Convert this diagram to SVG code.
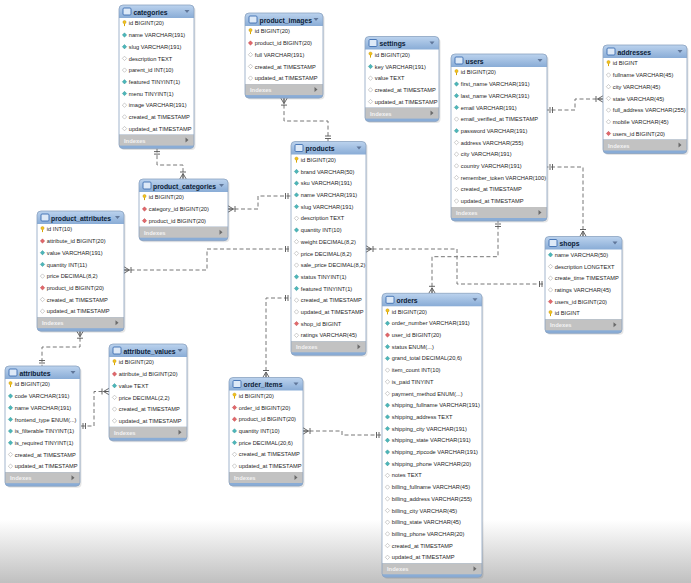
<svg xmlns="http://www.w3.org/2000/svg" xmlns:xlink="http://www.w3.org/1999/xlink" width="691" height="583" viewBox="0 0 691 583">
<style>
.tb{fill:url(#hg)}
.sh{fill:#000;opacity:0.1}
.bd{fill:#ffffff}
.ix{fill:#c2c2c2}
.ol{fill:none;stroke:#8aa2c0;stroke-width:0.8}
.nm{font-family:"Liberation Sans",Arial,sans-serif;font-size:6.8px;font-weight:bold;fill:#0c1d38}
.f{font-family:"Liberation Sans",Arial,sans-serif;font-size:5.7px;fill:#1e1e1e}
.ixt{font-family:"Liberation Sans",Arial,sans-serif;font-size:5.8px;font-weight:bold;fill:#f2f2f2}
.cn path{fill:none;stroke:#767676;stroke-width:1;stroke-dasharray:4 2.5}
.mk{fill:none;stroke:#555;stroke-width:0.9}
</style>
<defs>
<linearGradient id="hg" gradientUnits="userSpaceOnUse" x1="0" y1="0" x2="0" y2="13">
<stop offset="0" stop-color="#bcd3ee"/>
<stop offset="1" stop-color="#89acd6"/>
</linearGradient>
<linearGradient id="bg" x1="0" y1="0" x2="0" y2="1">
<stop offset="0" stop-color="#8c8c8c" stop-opacity="0"/>
<stop offset="1" stop-color="#8c8c8c" stop-opacity="0.55"/>
</linearGradient>
<g id="k"><circle cx="0" cy="-1.2" r="1.6" fill="#f3c21b" stroke="#b98b00" stroke-width="0.4"/><rect x="-0.5" y="0.2" width="1" height="2.6" fill="#d9a600"/></g>
<path id="dt" d="M0,-2.2L2.2,0L0,2.2L-2.2,0Z" fill="#4cb6b9" stroke="#2a8d91" stroke-width="0.4"/>
<path id="dh" d="M0,-2.2L2.2,0L0,2.2L-2.2,0Z" fill="#ffffff" stroke="#9a9a9a" stroke-width="0.5"/>
<path id="dr" d="M0,-2.2L2.2,0L0,2.2L-2.2,0Z" fill="#e2676a" stroke="#b34045" stroke-width="0.4"/>
<rect id="ti" width="8" height="7" rx="1" fill="#dde9f7" stroke="#3d6eb1" stroke-width="0.9"/>
<path id="dd" d="M-2.5,-1.5h5l-2.5,3z" fill="#60779a"/>
<path id="rt" d="M-1.5,-2.5v5l3,-2.5z" fill="#6a6a6a"/>
<marker id="one" viewBox="-10 -5 12 10" refX="0" refY="0" markerWidth="12" markerHeight="10" markerUnits="userSpaceOnUse" orient="auto-start-reverse">
<path class="mk" d="M-3,-3V3M-5.5,-3V3"/>
</marker>
<marker id="many" viewBox="-10 -5 12 10" refX="0" refY="0" markerWidth="12" markerHeight="10" markerUnits="userSpaceOnUse" orient="auto-start-reverse">
<path class="mk" d="M-5.5,0L0,-3.2M-5.5,0L0,3.2M-5.5,0H0M-7,-3V3"/>
</marker>
</defs>
<rect width="691" height="583" fill="#ffffff"/>
<rect y="520" width="691" height="63" fill="url(#bg)"/>

<g class="cn" id="connectors">
<path d="M157,148.6V165H183V179" marker-start="url(#one)" marker-end="url(#many)"/>
<path d="M284,98.1V121H328V141.5" marker-start="url(#many)" marker-end="url(#one)"/>
<path d="M228,209H258V196H291" marker-start="url(#many)" marker-end="url(#one)"/>
<path d="M124,270H207V249H291" marker-start="url(#many)" marker-end="url(#one)"/>
<path d="M80,331.2V347H42V366" marker-start="url(#many)" marker-end="url(#one)"/>
<path d="M109,391.5H94V426H80" marker-start="url(#many)" marker-end="url(#one)"/>
<path d="M266,377.5V298H291" marker-start="url(#many)" marker-end="url(#one)"/>
<path d="M303,431H342V435H382" marker-start="url(#many)" marker-end="url(#one)"/>
<path d="M366,249H457V284H545" marker-start="url(#many)" marker-end="url(#one)"/>
<path d="M432,293.3V256.7H498V221" marker-start="url(#many)" marker-end="url(#one)"/>
<path d="M583,236.5V167H547" marker-start="url(#many)" marker-end="url(#one)"/>
<path d="M603,99H575V110H547" marker-start="url(#many)" marker-end="url(#one)"/>
</g>

<g id="categories" transform="translate(119,5)">
<rect class="sh" x="1.5" y="1.5" width="75" height="143.6" rx="4"/>
<rect class="tb" width="75" height="143.6" rx="4"/>
<rect class="bd" y="13" width="75" height="116.6"/>
<rect class="ix" y="129.6" width="75" height="11"/>
<rect class="ol" width="75" height="143.6" rx="4"/>
<use href="#ti" x="4" y="3"/>
<text class="nm" x="14.5" y="9.6">categories</text>
<use href="#dd" x="68" y="6.5"/>
<text class="ixt" x="5" y="137.6">Indexes</text>
<use href="#rt" x="68" y="135.1"/>
<use href="#k" x="5.5" y="18.3"/><text class="f" x="9.8" y="20.4">id BIGINT(20)</text>
<use href="#dt" x="5.5" y="30"/><text class="f" x="9.8" y="32.1">name VARCHAR(191)</text>
<use href="#dt" x="5.5" y="41.7"/><text class="f" x="9.8" y="43.8">slug VARCHAR(191)</text>
<use href="#dh" x="5.5" y="53.4"/><text class="f" x="9.8" y="55.5">description TEXT</text>
<use href="#dh" x="5.5" y="65.1"/><text class="f" x="9.8" y="67.2">parent_id INT(10)</text>
<use href="#dt" x="5.5" y="76.8"/><text class="f" x="9.8" y="78.9">featured TINYINT(1)</text>
<use href="#dt" x="5.5" y="88.5"/><text class="f" x="9.8" y="90.6">menu TINYINT(1)</text>
<use href="#dh" x="5.5" y="100.2"/><text class="f" x="9.8" y="102.3">image VARCHAR(191)</text>
<use href="#dh" x="5.5" y="111.9"/><text class="f" x="9.8" y="114">created_at TIMESTAMP</text>
<use href="#dh" x="5.5" y="123.6"/><text class="f" x="9.8" y="125.7">updated_at TIMESTAMP</text>
</g>

<g id="product_images" transform="translate(245,13)">
<rect class="sh" x="1.5" y="1.5" width="78" height="85.1" rx="4"/>
<rect class="tb" width="78" height="85.1" rx="4"/>
<rect class="bd" y="13" width="78" height="58.1"/>
<rect class="ix" y="71.1" width="78" height="11"/>
<rect class="ol" width="78" height="85.1" rx="4"/>
<use href="#ti" x="4" y="3"/>
<text class="nm" x="14.5" y="9.6">product_images</text>
<use href="#dd" x="71" y="6.5"/>
<text class="ixt" x="5" y="79.1">Indexes</text>
<use href="#rt" x="71" y="76.6"/>
<use href="#k" x="5.5" y="18.3"/><text class="f" x="9.8" y="20.4">id BIGINT(20)</text>
<use href="#dr" x="5.5" y="30"/><text class="f" x="9.8" y="32.1">product_id BIGINT(20)</text>
<use href="#dh" x="5.5" y="41.7"/><text class="f" x="9.8" y="43.8">full VARCHAR(191)</text>
<use href="#dh" x="5.5" y="53.4"/><text class="f" x="9.8" y="55.5">created_at TIMESTAMP</text>
<use href="#dh" x="5.5" y="65.1"/><text class="f" x="9.8" y="67.2">updated_at TIMESTAMP</text>
</g>

<g id="settings" transform="translate(365,36.5)">
<rect class="sh" x="1.5" y="1.5" width="74" height="85.1" rx="4"/>
<rect class="tb" width="74" height="85.1" rx="4"/>
<rect class="bd" y="13" width="74" height="58.1"/>
<rect class="ix" y="71.1" width="74" height="11"/>
<rect class="ol" width="74" height="85.1" rx="4"/>
<use href="#ti" x="4" y="3"/>
<text class="nm" x="14.5" y="9.6">settings</text>
<use href="#dd" x="67" y="6.5"/>
<text class="ixt" x="5" y="79.1">Indexes</text>
<use href="#rt" x="67" y="76.6"/>
<use href="#k" x="5.5" y="18.3"/><text class="f" x="9.8" y="20.4">id BIGINT(20)</text>
<use href="#dt" x="5.5" y="30"/><text class="f" x="9.8" y="32.1">key VARCHAR(191)</text>
<use href="#dh" x="5.5" y="41.7"/><text class="f" x="9.8" y="43.8">value TEXT</text>
<use href="#dh" x="5.5" y="53.4"/><text class="f" x="9.8" y="55.5">created_at TIMESTAMP</text>
<use href="#dh" x="5.5" y="65.1"/><text class="f" x="9.8" y="67.2">updated_at TIMESTAMP</text>
</g>

<g id="users" transform="translate(451,54)">
<rect class="sh" x="1.5" y="1.5" width="96" height="167" rx="4"/>
<rect class="tb" width="96" height="167" rx="4"/>
<rect class="bd" y="13" width="96" height="140"/>
<rect class="ix" y="153" width="96" height="11"/>
<rect class="ol" width="96" height="167" rx="4"/>
<use href="#ti" x="4" y="3"/>
<text class="nm" x="14.5" y="9.6">users</text>
<use href="#dd" x="89" y="6.5"/>
<text class="ixt" x="5" y="161">Indexes</text>
<use href="#rt" x="89" y="158.5"/>
<use href="#k" x="5.5" y="18.3"/><text class="f" x="9.8" y="20.4">id BIGINT(20)</text>
<use href="#dt" x="5.5" y="30"/><text class="f" x="9.8" y="32.1">first_name VARCHAR(191)</text>
<use href="#dt" x="5.5" y="41.7"/><text class="f" x="9.8" y="43.8">last_name VARCHAR(191)</text>
<use href="#dt" x="5.5" y="53.4"/><text class="f" x="9.8" y="55.5">email VARCHAR(191)</text>
<use href="#dh" x="5.5" y="65.1"/><text class="f" x="9.8" y="67.2">email_verified_at TIMESTAMP</text>
<use href="#dt" x="5.5" y="76.8"/><text class="f" x="9.8" y="78.9">password VARCHAR(191)</text>
<use href="#dh" x="5.5" y="88.5"/><text class="f" x="9.8" y="90.6">address VARCHAR(255)</text>
<use href="#dh" x="5.5" y="100.2"/><text class="f" x="9.8" y="102.3">city VARCHAR(191)</text>
<use href="#dh" x="5.5" y="111.9"/><text class="f" x="9.8" y="114">country VARCHAR(191)</text>
<use href="#dh" x="5.5" y="123.6"/><text class="f" x="9.8" y="125.7">remember_token VARCHAR(100)</text>
<use href="#dh" x="5.5" y="135.3"/><text class="f" x="9.8" y="137.4">created_at TIMESTAMP</text>
<use href="#dh" x="5.5" y="147"/><text class="f" x="9.8" y="149.1">updated_at TIMESTAMP</text>
</g>

<g id="addresses" transform="translate(603,45)">
<rect class="sh" x="1.5" y="1.5" width="84" height="108.5" rx="4"/>
<rect class="tb" width="84" height="108.5" rx="4"/>
<rect class="bd" y="13" width="84" height="81.5"/>
<rect class="ix" y="94.5" width="84" height="11"/>
<rect class="ol" width="84" height="108.5" rx="4"/>
<use href="#ti" x="4" y="3"/>
<text class="nm" x="14.5" y="9.6">addresses</text>
<use href="#dd" x="77" y="6.5"/>
<text class="ixt" x="5" y="102.5">Indexes</text>
<use href="#rt" x="77" y="100"/>
<use href="#k" x="5.5" y="18.3"/><text class="f" x="9.8" y="20.4">id BIGINT</text>
<use href="#dh" x="5.5" y="30"/><text class="f" x="9.8" y="32.1">fullname VARCHAR(45)</text>
<use href="#dh" x="5.5" y="41.7"/><text class="f" x="9.8" y="43.8">city VARCHAR(45)</text>
<use href="#dh" x="5.5" y="53.4"/><text class="f" x="9.8" y="55.5">state VARCHAR(45)</text>
<use href="#dh" x="5.5" y="65.1"/><text class="f" x="9.8" y="67.2">full_address VARCHAR(255)</text>
<use href="#dh" x="5.5" y="76.8"/><text class="f" x="9.8" y="78.9">mobile VARCHAR(45)</text>
<use href="#dr" x="5.5" y="88.5"/><text class="f" x="9.8" y="90.6">users_id BIGINT(20)</text>
</g>

<g id="product_categories" transform="translate(139,179)">
<rect class="sh" x="1.5" y="1.5" width="89" height="61.7" rx="4"/>
<rect class="tb" width="89" height="61.7" rx="4"/>
<rect class="bd" y="13" width="89" height="34.7"/>
<rect class="ix" y="47.7" width="89" height="11"/>
<rect class="ol" width="89" height="61.7" rx="4"/>
<use href="#ti" x="4" y="3"/>
<text class="nm" x="14" y="9.6">product_categories</text>
<use href="#dd" x="82.5" y="6.5"/>
<text class="ixt" x="5" y="55.7">Indexes</text>
<use href="#rt" x="82" y="53.2"/>
<use href="#k" x="5.5" y="18.3"/><text class="f" x="9.8" y="20.4">id BIGINT(20)</text>
<use href="#dr" x="5.5" y="30"/><text class="f" x="9.8" y="32.1">category_id BIGINT(20)</text>
<use href="#dr" x="5.5" y="41.7"/><text class="f" x="9.8" y="43.8">product_id BIGINT(20)</text>
</g>

<g id="product_attributes" transform="translate(37,211)">
<rect class="sh" x="1.5" y="1.5" width="87" height="120.2" rx="4"/>
<rect class="tb" width="87" height="120.2" rx="4"/>
<rect class="bd" y="13" width="87" height="93.2"/>
<rect class="ix" y="106.2" width="87" height="11"/>
<rect class="ol" width="87" height="120.2" rx="4"/>
<use href="#ti" x="4" y="3"/>
<text class="nm" x="14" y="9.6">product_attributes</text>
<use href="#dd" x="80.5" y="6.5"/>
<text class="ixt" x="5" y="114.2">Indexes</text>
<use href="#rt" x="80" y="111.7"/>
<use href="#k" x="5.5" y="18.3"/><text class="f" x="9.8" y="20.4">id INT(10)</text>
<use href="#dr" x="5.5" y="30"/><text class="f" x="9.8" y="32.1">attribute_id BIGINT(20)</text>
<use href="#dt" x="5.5" y="41.7"/><text class="f" x="9.8" y="43.8">value VARCHAR(191)</text>
<use href="#dt" x="5.5" y="53.4"/><text class="f" x="9.8" y="55.5">quantity INT(11)</text>
<use href="#dh" x="5.5" y="65.1"/><text class="f" x="9.8" y="67.2">price DECIMAL(8,2)</text>
<use href="#dr" x="5.5" y="76.8"/><text class="f" x="9.8" y="78.9">product_id BIGINT(20)</text>
<use href="#dh" x="5.5" y="88.5"/><text class="f" x="9.8" y="90.6">created_at TIMESTAMP</text>
<use href="#dh" x="5.5" y="100.2"/><text class="f" x="9.8" y="102.3">updated_at TIMESTAMP</text>
</g>

<g id="products" transform="translate(291,141.5)">
<rect class="sh" x="1.5" y="1.5" width="75" height="213.8" rx="4"/>
<rect class="tb" width="75" height="213.8" rx="4"/>
<rect class="bd" y="13" width="75" height="186.8"/>
<rect class="ix" y="199.8" width="75" height="11"/>
<rect class="ol" width="75" height="213.8" rx="4"/>
<use href="#ti" x="4" y="3"/>
<text class="nm" x="14.5" y="9.6">products</text>
<use href="#dd" x="68" y="6.5"/>
<text class="ixt" x="5" y="207.8">Indexes</text>
<use href="#rt" x="68" y="205.3"/>
<use href="#k" x="5.5" y="18.3"/><text class="f" x="9.8" y="20.4">id BIGINT(20)</text>
<use href="#dt" x="5.5" y="30"/><text class="f" x="9.8" y="32.1">brand VARCHAR(50)</text>
<use href="#dt" x="5.5" y="41.7"/><text class="f" x="9.8" y="43.8">sku VARCHAR(191)</text>
<use href="#dt" x="5.5" y="53.4"/><text class="f" x="9.8" y="55.5">name VARCHAR(191)</text>
<use href="#dt" x="5.5" y="65.1"/><text class="f" x="9.8" y="67.2">slug VARCHAR(191)</text>
<use href="#dh" x="5.5" y="76.8"/><text class="f" x="9.8" y="78.9">description TEXT</text>
<use href="#dt" x="5.5" y="88.5"/><text class="f" x="9.8" y="90.6">quantity INT(10)</text>
<use href="#dh" x="5.5" y="100.2"/><text class="f" x="9.8" y="102.3">weight DECIMAL(8,2)</text>
<use href="#dh" x="5.5" y="111.9"/><text class="f" x="9.8" y="114">price DECIMAL(8,2)</text>
<use href="#dh" x="5.5" y="123.6"/><text class="f" x="9.8" y="125.7">sale_price DECIMAL(8,2)</text>
<use href="#dt" x="5.5" y="135.3"/><text class="f" x="9.8" y="137.4">status TINYINT(1)</text>
<use href="#dt" x="5.5" y="147"/><text class="f" x="9.8" y="149.1">featured TINYINT(1)</text>
<use href="#dh" x="5.5" y="158.7"/><text class="f" x="9.8" y="160.8">created_at TIMESTAMP</text>
<use href="#dh" x="5.5" y="170.4"/><text class="f" x="9.8" y="172.5">updated_at TIMESTAMP</text>
<use href="#dr" x="5.5" y="182.1"/><text class="f" x="9.8" y="184.2">shop_id BIGINT</text>
<use href="#dh" x="5.5" y="193.8"/><text class="f" x="9.8" y="195.9">ratings VARCHAR(45)</text>
</g>

<g id="shops" transform="translate(545,236.5)">
<rect class="sh" x="1.5" y="1.5" width="77" height="96.8" rx="4"/>
<rect class="tb" width="77" height="96.8" rx="4"/>
<rect class="bd" y="13" width="77" height="69.8"/>
<rect class="ix" y="82.8" width="77" height="11"/>
<rect class="ol" width="77" height="96.8" rx="4"/>
<use href="#ti" x="4" y="3"/>
<text class="nm" x="14.5" y="9.6">shops</text>
<use href="#dd" x="70" y="6.5"/>
<text class="ixt" x="5" y="90.8">Indexes</text>
<use href="#rt" x="70" y="88.3"/>
<use href="#dt" x="5.5" y="18.3"/><text class="f" x="9.8" y="20.4">name VARCHAR(50)</text>
<use href="#dh" x="5.5" y="30"/><text class="f" x="9.8" y="32.1">description LONGTEXT</text>
<use href="#dh" x="5.5" y="41.7"/><text class="f" x="9.8" y="43.8">create_time TIMESTAMP</text>
<use href="#dh" x="5.5" y="53.4"/><text class="f" x="9.8" y="55.5">ratings VARCHAR(45)</text>
<use href="#dr" x="5.5" y="65.1"/><text class="f" x="9.8" y="67.2">users_id BIGINT(20)</text>
<use href="#k" x="5.5" y="76.8"/><text class="f" x="9.8" y="78.9">id BIGINT</text>
</g>

<g id="orders" transform="translate(382,293.3)">
<rect class="sh" x="1.5" y="1.5" width="100" height="284" rx="4"/>
<rect class="tb" width="100" height="284" rx="4"/>
<rect class="bd" y="13" width="100" height="257"/>
<rect class="ix" y="270" width="100" height="11"/>
<rect class="ol" width="100" height="284" rx="4"/>
<use href="#ti" x="4" y="3"/>
<text class="nm" x="14.5" y="9.6">orders</text>
<use href="#dd" x="93" y="6.5"/>
<text class="ixt" x="5" y="278">Indexes</text>
<use href="#rt" x="93" y="275.5"/>
<use href="#k" x="5.5" y="18.3"/><text class="f" x="9.8" y="20.4">id BIGINT(20)</text>
<use href="#dt" x="5.5" y="30"/><text class="f" x="9.8" y="32.1">order_number VARCHAR(191)</text>
<use href="#dr" x="5.5" y="41.7"/><text class="f" x="9.8" y="43.8">user_id BIGINT(20)</text>
<use href="#dt" x="5.5" y="53.4"/><text class="f" x="9.8" y="55.5">status ENUM(...)</text>
<use href="#dt" x="5.5" y="65.1"/><text class="f" x="9.8" y="67.2">grand_total DECIMAL(20,6)</text>
<use href="#dh" x="5.5" y="76.8"/><text class="f" x="9.8" y="78.9">item_count INT(10)</text>
<use href="#dh" x="5.5" y="88.5"/><text class="f" x="9.8" y="90.6">is_paid TINYINT</text>
<use href="#dh" x="5.5" y="100.2"/><text class="f" x="9.8" y="102.3">payment_method ENUM(...)</text>
<use href="#dt" x="5.5" y="111.9"/><text class="f" x="9.8" y="114">shipping_fullname VARCHAR(191)</text>
<use href="#dt" x="5.5" y="123.6"/><text class="f" x="9.8" y="125.7">shipping_address TEXT</text>
<use href="#dt" x="5.5" y="135.3"/><text class="f" x="9.8" y="137.4">shipping_city VARCHAR(191)</text>
<use href="#dt" x="5.5" y="147"/><text class="f" x="9.8" y="149.1">shipping_state VARCHAR(191)</text>
<use href="#dt" x="5.5" y="158.7"/><text class="f" x="9.8" y="160.8">shipping_zipcode VARCHAR(191)</text>
<use href="#dt" x="5.5" y="170.4"/><text class="f" x="9.8" y="172.5">shipping_phone VARCHAR(20)</text>
<use href="#dh" x="5.5" y="182.1"/><text class="f" x="9.8" y="184.2">notes TEXT</text>
<use href="#dh" x="5.5" y="193.8"/><text class="f" x="9.8" y="195.9">billing_fullname VARCHAR(45)</text>
<use href="#dh" x="5.5" y="205.5"/><text class="f" x="9.8" y="207.6">billing_address VARCHAR(255)</text>
<use href="#dh" x="5.5" y="217.2"/><text class="f" x="9.8" y="219.3">billing_city VARCHAR(45)</text>
<use href="#dh" x="5.5" y="228.9"/><text class="f" x="9.8" y="231">billing_state VARCHAR(45)</text>
<use href="#dh" x="5.5" y="240.6"/><text class="f" x="9.8" y="242.7">billing_phone VARCHAR(20)</text>
<use href="#dh" x="5.5" y="252.3"/><text class="f" x="9.8" y="254.4">created_at TIMESTAMP</text>
<use href="#dh" x="5.5" y="264"/><text class="f" x="9.8" y="266.1">updated_at TIMESTAMP</text>
</g>

<g id="attributes" transform="translate(5,366)">
<rect class="sh" x="1.5" y="1.5" width="75" height="120.2" rx="4"/>
<rect class="tb" width="75" height="120.2" rx="4"/>
<rect class="bd" y="13" width="75" height="93.2"/>
<rect class="ix" y="106.2" width="75" height="11"/>
<rect class="ol" width="75" height="120.2" rx="4"/>
<use href="#ti" x="4" y="3"/>
<text class="nm" x="14.5" y="9.6">attributes</text>
<use href="#dd" x="68" y="6.5"/>
<text class="ixt" x="5" y="114.2">Indexes</text>
<use href="#rt" x="68" y="111.7"/>
<use href="#k" x="5.5" y="18.3"/><text class="f" x="9.8" y="20.4">id BIGINT(20)</text>
<use href="#dt" x="5.5" y="30"/><text class="f" x="9.8" y="32.1">code VARCHAR(191)</text>
<use href="#dt" x="5.5" y="41.7"/><text class="f" x="9.8" y="43.8">name VARCHAR(191)</text>
<use href="#dt" x="5.5" y="53.4"/><text class="f" x="9.8" y="55.5">frontend_type ENUM(...)</text>
<use href="#dt" x="5.5" y="65.1"/><text class="f" x="9.8" y="67.2">is_filterable TINYINT(1)</text>
<use href="#dt" x="5.5" y="76.8"/><text class="f" x="9.8" y="78.9">is_required TINYINT(1)</text>
<use href="#dh" x="5.5" y="88.5"/><text class="f" x="9.8" y="90.6">created_at TIMESTAMP</text>
<use href="#dh" x="5.5" y="100.2"/><text class="f" x="9.8" y="102.3">updated_at TIMESTAMP</text>
</g>

<g id="attribute_values" transform="translate(109,344)">
<rect class="sh" x="1.5" y="1.5" width="78" height="96.8" rx="4"/>
<rect class="tb" width="78" height="96.8" rx="4"/>
<rect class="bd" y="13" width="78" height="69.8"/>
<rect class="ix" y="82.8" width="78" height="11"/>
<rect class="ol" width="78" height="96.8" rx="4"/>
<use href="#ti" x="4" y="3"/>
<text class="nm" x="14.5" y="9.6">attribute_values</text>
<use href="#dd" x="71" y="6.5"/>
<text class="ixt" x="5" y="90.8">Indexes</text>
<use href="#rt" x="71" y="88.3"/>
<use href="#k" x="5.5" y="18.3"/><text class="f" x="9.8" y="20.4">id BIGINT(20)</text>
<use href="#dr" x="5.5" y="30"/><text class="f" x="9.8" y="32.1">attribute_id BIGINT(20)</text>
<use href="#dt" x="5.5" y="41.7"/><text class="f" x="9.8" y="43.8">value TEXT</text>
<use href="#dh" x="5.5" y="53.4"/><text class="f" x="9.8" y="55.5">price DECIMAL(2,2)</text>
<use href="#dh" x="5.5" y="65.1"/><text class="f" x="9.8" y="67.2">created_at TIMESTAMP</text>
<use href="#dh" x="5.5" y="76.8"/><text class="f" x="9.8" y="78.9">updated_at TIMESTAMP</text>
</g>

<g id="order_items" transform="translate(229,377.5)">
<rect class="sh" x="1.5" y="1.5" width="74" height="108.5" rx="4"/>
<rect class="tb" width="74" height="108.5" rx="4"/>
<rect class="bd" y="13" width="74" height="81.5"/>
<rect class="ix" y="94.5" width="74" height="11"/>
<rect class="ol" width="74" height="108.5" rx="4"/>
<use href="#ti" x="4" y="3"/>
<text class="nm" x="14.5" y="9.6">order_items</text>
<use href="#dd" x="67" y="6.5"/>
<text class="ixt" x="5" y="102.5">Indexes</text>
<use href="#rt" x="67" y="100"/>
<use href="#k" x="5.5" y="18.3"/><text class="f" x="9.8" y="20.4">id BIGINT(20)</text>
<use href="#dr" x="5.5" y="30"/><text class="f" x="9.8" y="32.1">order_id BIGINT(20)</text>
<use href="#dr" x="5.5" y="41.7"/><text class="f" x="9.8" y="43.8">product_id BIGINT(20)</text>
<use href="#dt" x="5.5" y="53.4"/><text class="f" x="9.8" y="55.5">quantity INT(10)</text>
<use href="#dt" x="5.5" y="65.1"/><text class="f" x="9.8" y="67.2">price DECIMAL(20,6)</text>
<use href="#dh" x="5.5" y="76.8"/><text class="f" x="9.8" y="78.9">created_at TIMESTAMP</text>
<use href="#dh" x="5.5" y="88.5"/><text class="f" x="9.8" y="90.6">updated_at TIMESTAMP</text>
</g>
</svg>
